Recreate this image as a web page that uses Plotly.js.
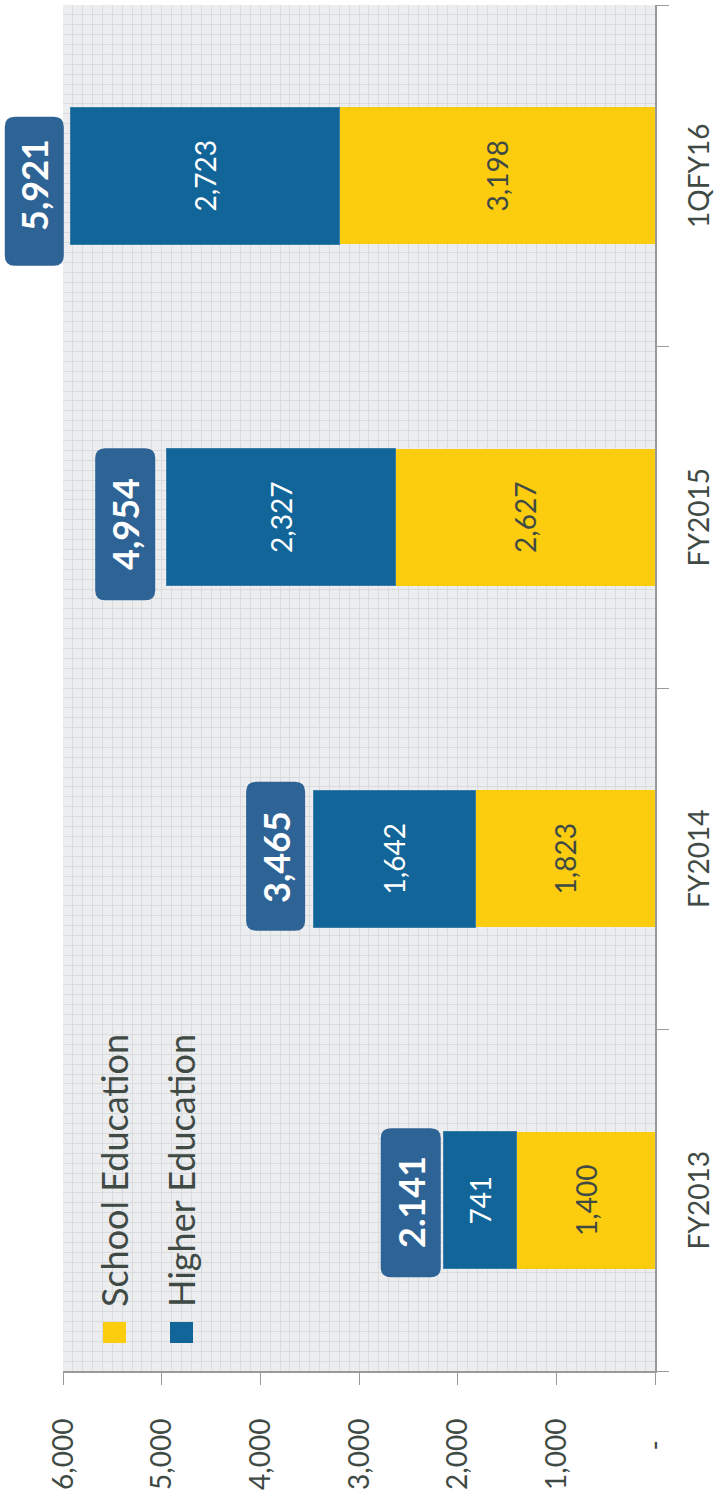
<!DOCTYPE html>
<html>
<head>
<meta charset="utf-8">
<script src="https://cdn.plot.ly/plotly-3.0.1.min.js"></script>
<style>
html, body { margin:0; padding:0; width:720px; height:1501px; overflow:hidden; background:#ffffff; }
#wrap { position:absolute; left:0; top:0; width:1501px; height:720px;
        transform-origin:0 0; transform: translate(0px, 1501px) rotate(-90deg); }
#chart { width:1501px; height:720px; }
</style>
</head>
<body>
<div id="wrap"><div id="chart"></div></div>
<script>
// ---- data ----
var categories = ["FY2013", "FY2014", "FY2015", "1QFY16"];
var schoolEducation = [1400, 1823, 2627, 3198];
var higherEducation = [741, 1642, 2327, 2723];
var totals = [2141, 3465, 4954, 5921];
var totalLabels = ["2.141", "3,465", "4,954", "5,921"];
var seriesNames = ["School Education", "Higher Education"];
var valueRange = [0, 6000];
var zeroLabel = "-\u00A0\u00A0\u00A0";

// ---- styles ----
var YELLOW = "#FCCC0E", BLUE = "#116599", BOX = "#2E6396", TXT = "#3F4A45";
var GRID = "#DADBDE";
var FONT = "Lato, 'Noto Sans', sans-serif";
function fmt(v){ return v.toLocaleString("en-US"); }
function toPaper(v){ return (v - valueRange[0]) / (valueRange[1] - valueRange[0]); }

var traces = [
  { type:"bar", name:seriesNames[0], x:categories, y:schoolEducation,
    marker:{color:YELLOW}, width:0.4,
    text:schoolEducation.map(fmt), textposition:"inside", insidetextanchor:"middle",
    textangle:0, constraintext:"none",
    textfont:{family:FONT, size:28, color:TXT}, hoverinfo:"skip" },
  { type:"bar", name:seriesNames[1], x:categories, y:higherEducation,
    marker:{color:BLUE, line:{color:"#3D7DAA", width:1}}, width:0.4,
    text:higherEducation.map(fmt), textposition:"inside", insidetextanchor:"middle",
    textangle:0, constraintext:"none",
    textfont:{family:FONT, size:28, color:"#FFFFFF"}, hoverinfo:"skip" },
  // empty helper traces: only register the overlay grid axes
  { type:"scatter", x:[], y:[], xaxis:"x2", yaxis:"y", hoverinfo:"skip", showlegend:false },
  { type:"scatter", x:[], y:[], xaxis:"x", yaxis:"y2", hoverinfo:"skip", showlegend:false }
];

// total boxes: pixel offsets [left, right] around category centre, [bottom, top] above bar end
var boxH = [[-77, 72], [-72, 77], [-83, 69], [-90, 59]];
var boxV = [[3, 63], [8, 67], [11, 71], [7, 66]];
var textShift = [-2, 2, -7, -9];
var R = 10;
function roundRect(x0, x1, y0, y1, r){
  return "M" + (x0 + r) + "," + y0 + " L" + (x1 - r) + "," + y0 +
         " Q" + x1 + "," + y0 + " " + x1 + "," + (y0 + r) +
         " L" + x1 + "," + (y1 - r) +
         " Q" + x1 + "," + y1 + " " + (x1 - r) + "," + y1 +
         " L" + (x0 + r) + "," + y1 +
         " Q" + x0 + "," + y1 + " " + x0 + "," + (y1 - r) +
         " L" + x0 + "," + (y0 + r) +
         " Q" + x0 + "," + y0 + " " + (x0 + r) + "," + y0 + " Z";
}
var shapes = [], annotations = [];
categories.forEach(function(c, i){
  shapes.push({ type:"path", xref:"x", yref:"paper", xsizemode:"pixel", ysizemode:"pixel",
    xanchor:c, yanchor:toPaper(totals[i]),
    path: roundRect(boxH[i][0], boxH[i][1], boxV[i][0], boxV[i][1], R),
    fillcolor:BOX, line:{width:0}, layer:"above" });
  annotations.push({ x:c, y:totals[i], xref:"x", yref:"y", text:"<b>" + totalLabels[i] + "</b>",
    showarrow:false, xanchor:"center", yanchor:"middle",
    xshift:textShift[i], yshift:(boxV[i][0] + boxV[i][1]) / 2,
    font:{family:FONT, size:36, color:"#FFFFFF"} });
});

// custom legend (paper coords; plot area 1366 x 592)
var legendColors = [YELLOW, BLUE];
var legendRowsV = [[103, 126], [170, 193]];
seriesNames.forEach(function(n, i){
  var v0 = legendRowsV[i][0], v1 = legendRowsV[i][1];
  shapes.push({ type:"rect", xref:"paper", yref:"paper",
    x0:(158 - 130) / 1366, x1:(179 - 130) / 1366,
    y0:(655 - v1) / 592, y1:(655 - v0) / 592,
    fillcolor:legendColors[i], line:{width:0} });
  annotations.push({ xref:"paper", yref:"paper", x:(192 - 130) / 1366, y:(655 - (v0 + v1) / 2 + 1) / 592,
    xanchor:"left", yanchor:"middle", showarrow:false, text:n,
    font:{family:FONT, size:36, color:TXT} });
});

var layout = {
  width:1501, height:720,
  margin:{l:130, r:5, t:63, b:65},
  paper_bgcolor:"#FFFFFF", plot_bgcolor:"#ECEDEF",
  barmode:"stack", showlegend:false,
  font:{family:FONT, color:TXT, size:28},
  xaxis:{ type:"category", showgrid:false, zeroline:false,
    showline:true, linecolor:"#9A9A9A", linewidth:2,
    ticks:"outside", tickson:"boundaries", ticklen:12, tickcolor:"#9A9A9A", tickwidth:1,
    tickfont:{family:FONT, size:28, color:TXT}, ticklabelstandoff:18 },
  xaxis2:{ overlaying:"x", anchor:"y", range:[0, 138], dtick:1, tick0:0,
    showgrid:true, gridcolor:GRID, gridwidth:1, zeroline:false,
    showline:false, showticklabels:false, ticks:"" },
  yaxis:{ range:valueRange, tickmode:"linear", tick0:0, dtick:1000, tickformat:",d",
    labelalias:{"0": zeroLabel},
    showgrid:false, zeroline:false,
    showline:true, linecolor:"#9A9A9A", linewidth:2,
    ticks:"outside", ticklen:12, tickcolor:"#9A9A9A", tickwidth:1,
    tickfont:{family:FONT, size:28, color:TXT}, ticklabelstandoff:28 },
  yaxis2:{ overlaying:"y", anchor:"x", range:[0, 60], dtick:1, tick0:0,
    showgrid:true, gridcolor:GRID, gridwidth:1, zeroline:false,
    showline:false, showticklabels:false, ticks:"" },
  shapes:shapes, annotations:annotations
};

Plotly.newPlot("chart", traces, layout, {displayModeBar:false, staticPlot:true});
</script>
</body>
</html>
